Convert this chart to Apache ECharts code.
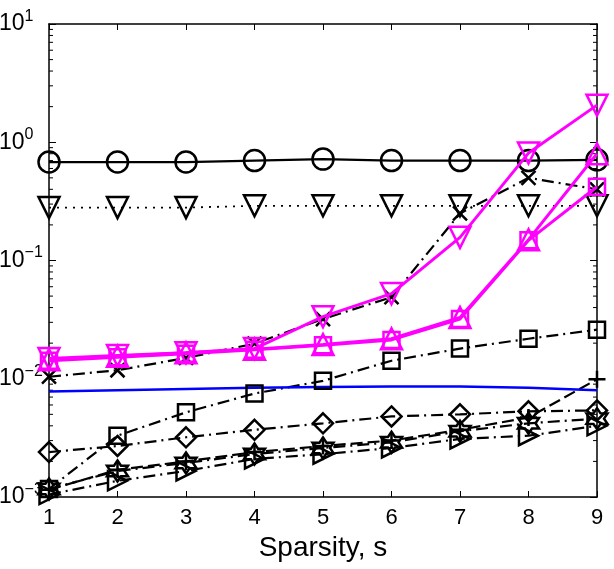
<!DOCTYPE html>
<html><head><meta charset="utf-8">
<script src="https://cdn.jsdelivr.net/npm/echarts@6/dist/echarts.min.js"></script>
<style>html,body{margin:0;padding:0;background:#fff}#c{width:614px;height:569px}</style>
</head><body><div id="c"></div>
<script>
const sparsity = [1,2,3,4,5,6,7,8,9];
const xTicks = [1,2,3,4,5,6,7,8,9];
const yTickExponents = [-3,-2,-1,0,1];
const circleVals = [0.68,0.68,0.68,0.70,0.72,0.70,0.70,0.70,0.71];
const dotTriVals = [0.28,0.28,0.28,0.29,0.29,0.29,0.29,0.29,0.29];
const crossVals = [0.0104,0.0118,0.0150,0.0198,0.032,0.049,0.25,0.50,0.40];
const magDownVals = [0.0148,0.0157,0.0166,0.0180,0.0335,0.0525,0.157,0.81,2.06];
const magUpVals = [0.0145,0.0155,0.0166,0.0178,0.0195,0.0218,0.033,0.150,0.80];
const magSqVals = [0.0142,0.0152,0.0163,0.0176,0.0192,0.0213,0.032,0.148,0.42];
const blueVals = [0.0078,0.0080,0.0082,0.0084,0.0085,0.0086,0.0086,0.0084,0.0080];
const squareVals = [0.00117,0.0033,0.0052,0.0075,0.0096,0.0142,0.018,0.0218,0.026];
const diamondVals = [0.0024,0.0027,0.0032,0.0037,0.0042,0.0048,0.0050,0.0053,0.0054];
const starVals = [0.00117,0.00166,0.00194,0.00231,0.0026,0.0029,0.0036,0.0042,0.0046];
const rightTriVals = [0.00105,0.00137,0.00166,0.0021,0.0023,0.0026,0.0031,0.0033,0.0040];
const plusVals = [0.00115,0.0017,0.0020,0.0024,0.0027,0.0030,0.0037,0.0047,0.0099];

const FONT = "'Liberation Sans', Arial, Helvetica, sans-serif";
const pair = vals => sparsity.map((x,i)=>[x, vals[i]]);

const SYM = {
  cross: 'path://M0,0L10,10M10,0L0,10',
  plus: 'path://M5,0L5,10M0,5L10,5',
  down: 'path://M0,0L10,0L5,9Z',
  up: 'path://M5,0L10,9L0,9Z',
  right: 'path://M0,0L9,5L0,10Z',
  square: 'path://M0,0L10,0L10,10L0,10Z',
  diamond: 'path://M5,0L10,5L5,10L0,5Z'
};
(function(){
  let p = '';
  for (let k=0;k<12;k++){
    const a = -Math.PI/2 + k*Math.PI/6;
    const r = (k%2===0) ? 5 : 2.9;
    p += (k===0?'M':'L') + (5+r*Math.cos(a)).toFixed(3) + ',' + (5+r*Math.sin(a)).toFixed(3);
  }
  SYM.star = 'path://' + p + 'Z';
})();

const dashDot = [12,5,2,5];
function mk(name, vals, color, lineType, sym, size, width, z){
  return {
    name, type:'line', data: pair(vals), clip:false, z: z||2,
    symbol: sym, symbolSize: size, showSymbol: sym!=='none',
    lineStyle:{color, width, type: lineType},
    itemStyle:{color:'rgba(0,0,0,0)', borderColor: color, borderWidth: 2.5},
    emphasis:{disabled:true}, animation:false
  };
}

const minorVals = [];
for (let e=-3;e<1;e++) for (let m=2;m<=9;m++) minorVals.push([m*Math.pow(10,e)]);

const option = {
  animation:false,
  grid:{left:49, right:17, top:24, bottom:72, containLabel:false, outerBoundsMode:'none'},
  xAxis:[{
    type:'value', min:1, max:9, interval:1,
    axisLine:{onZero:false, lineStyle:{color:'#000', width:1.5}},
    axisTick:{inside:true, length:6, lineStyle:{color:'#000'}},
    splitLine:{show:false},
    axisLabel:{color:'#000', fontSize:22, fontFamily:FONT, margin:10,
      formatter: v => xTicks.includes(v) ? String(v) : ''},
    name:'Sparsity, s', nameLocation:'middle', nameGap:34,
    nameTextStyle:{color:'#000', fontSize:28, fontFamily:FONT}
  },{
    type:'value', min:1, max:9, interval:1, position:'top',
    axisLine:{lineStyle:{color:'#000', width:1.5}},
    axisTick:{inside:true, length:6, lineStyle:{color:'#000'}},
    axisLabel:{show:false}, splitLine:{show:false}
  }],
  yAxis:[{
    type:'log', logBase:10, min:0.001, max:10,
    axisLine:{lineStyle:{color:'#000', width:1.5}},
    axisTick:{inside:true, length:7, lineStyle:{color:'#000'}},
    splitLine:{show:false}, minorTick:{show:false},
    axisLabel:{
      margin:50, align:'left', color:'#000', fontFamily:FONT,
      formatter: v => {
        const e = Math.round(Math.log10(v));
        if (!yTickExponents.includes(e)) return '';
        return '{b|10}{s|' + (e<0 ? '\u2212' + (-e) : e) + '}';
      },
      rich:{
        b:{fontSize:23, fontFamily:FONT, color:'#000'},
        s:{fontSize:16, fontFamily:FONT, color:'#000', padding:[0,0,15,0]}
      }
    }
  },{
    type:'log', logBase:10, min:0.001, max:10, position:'right',
    axisLine:{lineStyle:{color:'#000', width:1.5}},
    axisTick:{inside:true, length:7, lineStyle:{color:'#000'}},
    axisLabel:{show:false}, splitLine:{show:false}
  }],
  series:[
    {
      type:'custom', data: minorVals, silent:true, z:1,
      renderItem:(params, api)=>{
        const v = api.value(0);
        const l = api.coord([1, v]);
        const r = api.coord([9, v]);
        return {type:'group', children:[
          {type:'line', shape:{x1:l[0], y1:l[1], x2:l[0]+4, y2:l[1]}, style:{stroke:'#000', lineWidth:1}},
          {type:'line', shape:{x1:r[0]-4, y1:r[1], x2:r[0], y2:r[1]}, style:{stroke:'#000', lineWidth:1}}
        ]};
      },
      encode:{y:0}
    },
    mk('circle', circleVals, '#000', 'solid', 'circle', 21, 2.2),
    mk('dotTri', dotTriVals, '#000', [2,6], SYM.down, 21, 1.8),
    mk('cross', crossVals, '#000', dashDot, SYM.cross, 14, 2.2),
    mk('square', squareVals, '#000', dashDot, SYM.square, 16, 2.2),
    mk('diamond', diamondVals, '#000', dashDot, SYM.diamond, 20, 2.2),
    mk('star', starVals, '#000', dashDot, SYM.star, 21, 2.2),
    mk('rightTri', rightTriVals, '#000', dashDot, SYM.right, 19, 2.2),
    mk('plus', plusVals, '#000', [12,5], SYM.plus, 17, 2.2),
    mk('blue', blueVals, '#0000ff', 'solid', 'none', 0, 2.5),
    mk('magSq', magSqVals, '#ff00ff', 'solid', SYM.square, 16, 3, 3),
    mk('magUp', magUpVals, '#ff00ff', 'solid', SYM.up, 21, 3, 3),
    mk('magDown', magDownVals, '#ff00ff', 'solid', SYM.down, 21, 3, 3)
  ]
};
const chart = echarts.init(document.getElementById('c'), null, {renderer:'canvas'});
chart.setOption(option);
</script></body></html>
